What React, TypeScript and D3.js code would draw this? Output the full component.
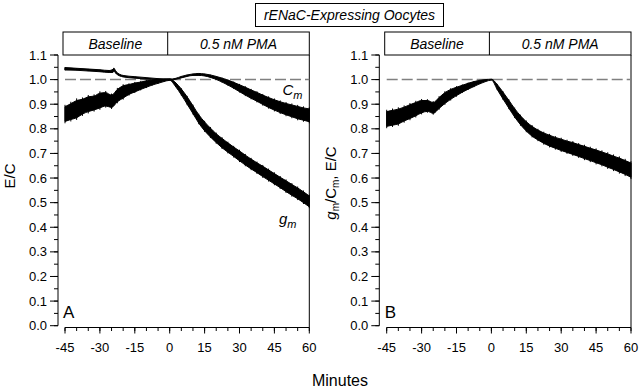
import React from 'react';
import * as d3 from 'd3';

const TITLE = 'rENaC-Expressing Oocytes';
const PHASES = ['Baseline', '0.5 nM PMA'];
const X_TICKS = [-45, -30, -15, 0, 15, 30, 45, 60];
const Y_TICKS = [0, 0.1, 0.2, 0.3, 0.4, 0.5, 0.6, 0.7, 0.8, 0.9, 1.0, 1.1];

const TIME = [-45, -42.5, -40, -37.5, -35, -32.5, -30, -27.5, -25, -22.5, -20, -17.5, -15, -12.5, -10, -7.5, -5, -2.5, 0,
  2.5, 5, 7.5, 10, 12.5, 15, 17.5, 20, 22.5, 25, 27.5, 30, 32.5, 35, 37.5, 40, 42.5, 45, 47.5, 50, 52.5, 55, 57.5, 60];

const GM_MEAN = [0.86, 0.87, 0.88, 0.89, 0.9, 0.905, 0.915, 0.92, 0.912, 0.935, 0.95, 0.96, 0.968, 0.975, 0.982, 0.988, 0.993, 0.997, 1.0,
  0.98, 0.95, 0.915, 0.878, 0.84, 0.81, 0.785, 0.762, 0.742, 0.724, 0.707, 0.69, 0.673, 0.657, 0.642, 0.627, 0.612, 0.597, 0.582, 0.567, 0.552, 0.538, 0.522, 0.505];
const GM_SEM = [0.03, 0.032, 0.035, 0.03, 0.03, 0.028, 0.03, 0.027, 0.025, 0.025, 0.025, 0.02, 0.018, 0.015, 0.013, 0.01, 0.008, 0.005, 0.003,
  0.008, 0.012, 0.015, 0.016, 0.017, 0.018, 0.018, 0.018, 0.019, 0.019, 0.019, 0.02, 0.02, 0.02, 0.02, 0.021, 0.021, 0.021, 0.021, 0.022, 0.022, 0.022, 0.022, 0.022];

const CM_TIME = [-45, -40, -35, -30, -26, -24.5, -24, -23, -20, -15, -10, -5, 0,
  2.5, 5, 7.5, 10, 12.5, 15, 17.5, 20, 22.5, 25, 27.5, 30, 32.5, 35, 37.5, 40, 42.5, 45, 47.5, 50, 52.5, 55, 57.5, 60];
const CM_MEAN = [1.044, 1.042, 1.039, 1.036, 1.033, 1.035, 1.04, 1.028, 1.014, 1.009, 1.005, 1.002, 1.0,
  1.003, 1.01, 1.016, 1.02, 1.021, 1.019, 1.014, 1.007, 0.998, 0.988, 0.977, 0.965, 0.953, 0.941, 0.93, 0.918, 0.907, 0.897, 0.888, 0.88, 0.873, 0.866, 0.86, 0.855];
const CM_SEM = [0.005, 0.004, 0.004, 0.004, 0.004, 0.006, 0.006, 0.004, 0.003, 0.003, 0.003, 0.002, 0.002,
  0.002, 0.003, 0.003, 0.003, 0.004, 0.004, 0.005, 0.006, 0.008, 0.01, 0.012, 0.014, 0.016, 0.017, 0.018, 0.019, 0.02, 0.021, 0.022, 0.023, 0.024, 0.025, 0.025, 0.026];

const RATIO_MEAN = [0.84, 0.845, 0.85, 0.86, 0.87, 0.88, 0.89, 0.893, 0.885, 0.905, 0.925, 0.94, 0.952, 0.963, 0.973, 0.982, 0.99, 0.996, 1.0,
  0.97, 0.935, 0.9, 0.865, 0.835, 0.81, 0.79, 0.775, 0.762, 0.752, 0.743, 0.735, 0.727, 0.72, 0.712, 0.704, 0.696, 0.688, 0.68, 0.671, 0.662, 0.653, 0.643, 0.632];
const RATIO_SEM = [0.03, 0.03, 0.03, 0.028, 0.028, 0.027, 0.025, 0.022, 0.022, 0.022, 0.022, 0.02, 0.017, 0.014, 0.012, 0.01, 0.007, 0.004, 0.002,
  0.01, 0.014, 0.016, 0.017, 0.018, 0.019, 0.02, 0.02, 0.021, 0.022, 0.022, 0.023, 0.023, 0.024, 0.024, 0.025, 0.025, 0.026, 0.026, 0.027, 0.027, 0.028, 0.028, 0.029];

const FONT = '"Liberation Sans", Arial, sans-serif';

type Series = { t: number[]; m: number[]; s: number[] };

function Band({ series, x, y }: { series: Series; x: any; y: any }) {
  const pts = series.t.map((t, i) => ({ t, m: series.m[i], s: series.s[i] }));
  const area = d3.area<any>()
    .x(d => x(d.t))
    .y0(d => y(d.m - d.s))
    .y1(d => y(d.m + d.s))
    .curve(d3.curveMonotoneX);
  return (
    <g>
      <path d={area(pts) || ''} fill="#000" stroke="#000" strokeWidth={1} />
      {pts.map((d, i) => (
        <line key={i} x1={x(d.t)} x2={x(d.t)} y1={y(d.m - d.s * 1.25)} y2={y(d.m + d.s * 1.25)} stroke="#000" strokeWidth={1} />
      ))}
    </g>
  );
}

function Panel({ axisX, left, right, series, letter, ylabel, ylabelX, ylabelY }:
  { axisX: number; left: number; right: number; series: Series[]; letter: string; ylabel: React.ReactNode; ylabelX: number; ylabelY: number }) {
  const x = d3.scaleLinear().domain([-45, 60]).range([left, right]);
  const y = d3.scaleLinear().domain([0, 1.1]).range([325.7, 55]);
  const xAxisY = 327.5;
  const boxTop = 32;
  const boxBottom = y(1.1);
  const boxLeft = x(-45) - 2;
  const divider = x(0) - 2;
  const xMinor = x.ticks(21);
  const yMinor = y.ticks(22);
  return (
    <g fontFamily={FONT}>
      {/* phase header */}
      <rect x={boxLeft} y={boxTop} width={right - boxLeft} height={boxBottom - boxTop} fill="#fff" stroke="#000" strokeWidth={1} />
      <line x1={divider} x2={divider} y1={boxTop} y2={boxBottom} stroke="#000" strokeWidth={1} />
      <text x={(boxLeft + divider) / 2} y={49} textAnchor="middle" fontSize={14} fontStyle="italic">{PHASES[0]}</text>
      <text x={(divider + right) / 2} y={49} textAnchor="middle" fontSize={14} fontStyle="italic">{PHASES[1]}</text>
      {/* y axis */}
      <line x1={axisX} x2={axisX} y1={y(1.1)} y2={y(0)} stroke="#000" strokeWidth={1} />
      {yMinor.map((v, i) => (
        <line key={'ym' + i} x1={axisX - 4} x2={axisX} y1={y(v)} y2={y(v)} stroke="#000" strokeWidth={1} />
      ))}
      {Y_TICKS.map((v, i) => (
        <g key={'y' + i}>
          <line x1={axisX - 8} x2={axisX} y1={y(v)} y2={y(v)} stroke="#000" strokeWidth={1} />
          <text x={axisX - 11} y={y(v) + 4.5} textAnchor="end" fontSize={13}>{v.toFixed(1)}</text>
        </g>
      ))}
      {/* x axis */}
      <line x1={x(-45)} x2={x(60)} y1={xAxisY} y2={xAxisY} stroke="#000" strokeWidth={1} />
      {xMinor.map((v, i) => (
        <line key={'xm' + i} x1={x(v)} x2={x(v)} y1={xAxisY} y2={xAxisY + 3.5} stroke="#000" strokeWidth={1} />
      ))}
      {X_TICKS.map((v, i) => (
        <g key={'x' + i}>
          <line x1={x(v)} x2={x(v)} y1={xAxisY} y2={xAxisY + 6} stroke="#000" strokeWidth={1} />
          <text x={x(v)} y={352} textAnchor="middle" fontSize={13}>{v}</text>
        </g>
      ))}
      {/* right frame */}
      <line x1={right} x2={right} y1={boxBottom} y2={xAxisY} stroke="#000" strokeWidth={1} />
      {/* reference line */}
      <line x1={x(-45)} x2={right} y1={y(1)} y2={y(1)} stroke="#808080" strokeWidth={1.5} strokeDasharray="11,4" />
      {series.map((s, i) => <Band key={i} series={s} x={x} y={y} />)}
      <text x={left - 2} y={318} fontSize={17}>{letter}</text>
      <text transform={`translate(${ylabelX},${ylabelY}) rotate(-90)`} textAnchor="middle" fontSize={15}>{ylabel}</text>
    </g>
  );
}

export default function App() {
  const gm: Series = { t: TIME, m: GM_MEAN, s: GM_SEM };
  const cm: Series = { t: CM_TIME, m: CM_MEAN, s: CM_SEM };
  const ratio: Series = { t: TIME, m: RATIO_MEAN, s: RATIO_SEM };
  return (
    <svg width={640} height={390} style={{ position: 'absolute', left: 0, top: 0, background: '#fff' }} fontFamily={FONT}>
      <rect x={0} y={0} width={640} height={390} fill="#fff" />
      <rect x={255.5} y={3.5} width={188} height={23} fill="#fff" stroke="#000" strokeWidth={1} />
      <text x={349.5} y={20} textAnchor="middle" fontSize={14} fontStyle="italic">{TITLE}</text>
      <Panel axisX={58} left={65} right={309.3} series={[gm, cm]} letter="A"
        ylabel="E/C" ylabelX={15} ylabelY={176} />
      <Panel axisX={379.3} left={386.7} right={631} series={[ratio]} letter="B"
        ylabel={<>
          <tspan fontStyle="italic">g</tspan><tspan fontSize={10} dy={3}>m</tspan>
          <tspan dy={-3}>/C</tspan><tspan fontSize={10} dy={3}>m</tspan>
          <tspan dy={-3}>, E/C</tspan>
        </>} ylabelX={336} ylabelY={183} />
      {/* curve labels */}
      <text x={282.5} y={95} fontSize={15} fontStyle="italic" fontFamily={FONT}>C<tspan fontSize={11} dy={4}>m</tspan></text>
      <text x={279} y={224} fontSize={15} fontStyle="italic" fontFamily={FONT}>g<tspan fontSize={11} dy={4}>m</tspan></text>
      <text x={340} y={386} textAnchor="middle" fontSize={16} fontFamily={FONT}>Minutes</text>
    </svg>
  );
}
